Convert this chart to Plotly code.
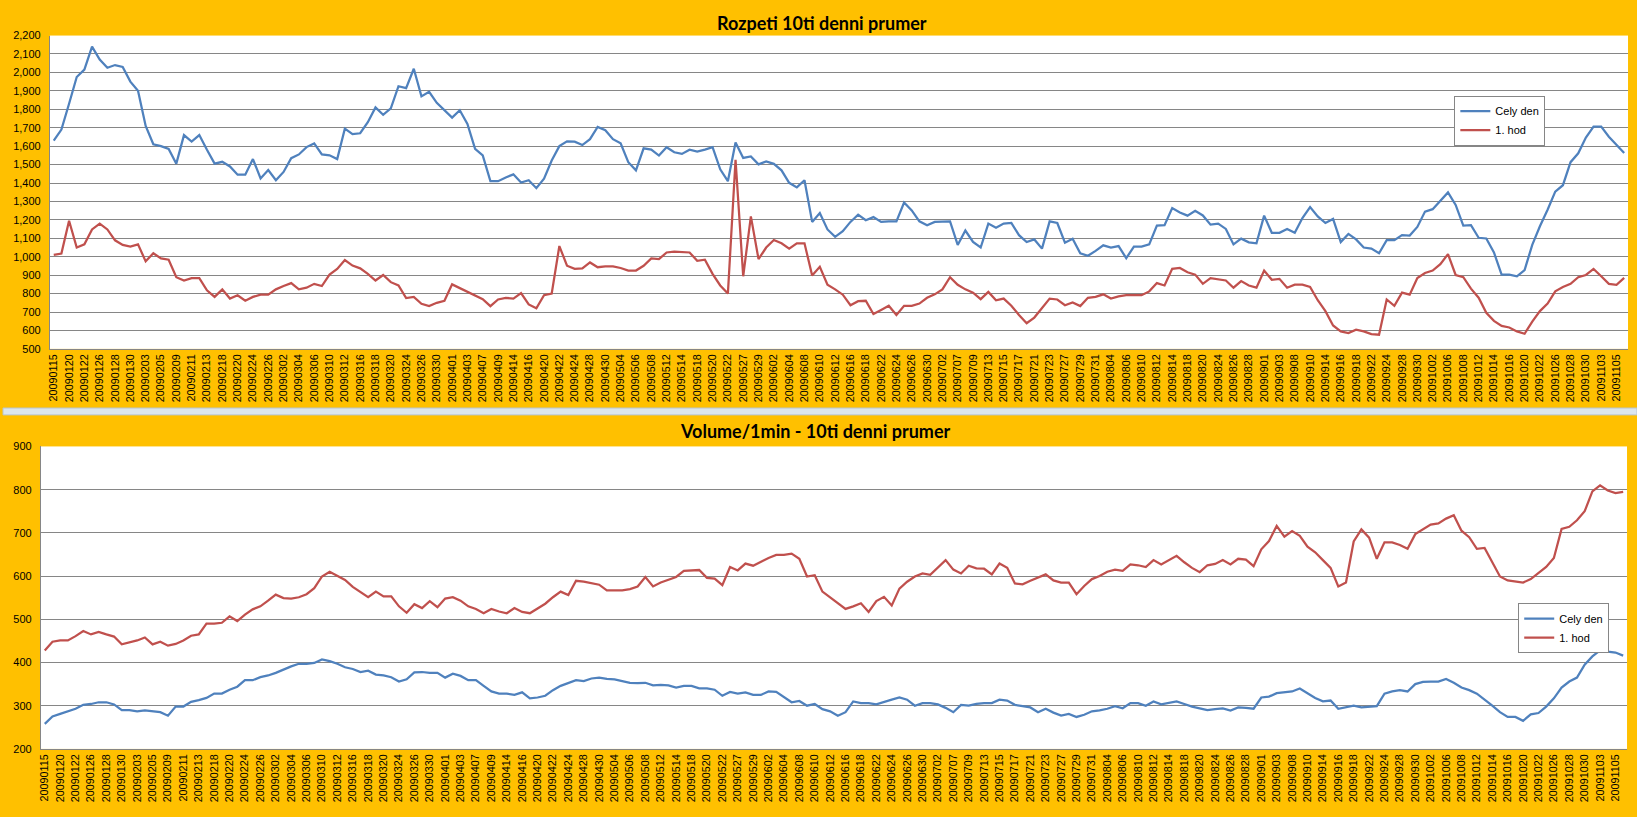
import plotly.graph_objects as go

# ---------------- data ----------------
dates = [
    "20090115", "20090116", "20090120", "20090121", "20090122", "20090123", "20090126", "20090127", "20090128", "20090129", "20090130",
    "20090202", "20090203", "20090204", "20090205", "20090206", "20090209", "20090210", "20090211", "20090212", "20090213",
    "20090217", "20090218", "20090219", "20090220", "20090223", "20090224", "20090225", "20090226", "20090227",
    "20090302", "20090303", "20090304", "20090305", "20090306", "20090309", "20090310", "20090311", "20090312", "20090313",
    "20090316", "20090317", "20090318", "20090319", "20090320", "20090323", "20090324", "20090325", "20090326", "20090327",
    "20090330", "20090331",
    "20090401", "20090402", "20090403", "20090406", "20090407", "20090408", "20090409", "20090413", "20090414", "20090415",
    "20090416", "20090417", "20090420", "20090421", "20090422", "20090423", "20090424", "20090427", "20090428", "20090429",
    "20090430",
    "20090501", "20090504", "20090505", "20090506", "20090507", "20090508", "20090511", "20090512", "20090513", "20090514",
    "20090515", "20090518", "20090519", "20090520", "20090521", "20090522", "20090526", "20090527", "20090528", "20090529",
    "20090601", "20090602", "20090603", "20090604", "20090605", "20090608", "20090609", "20090610", "20090611", "20090612",
    "20090615", "20090616", "20090617", "20090618", "20090619", "20090622", "20090623", "20090624", "20090625", "20090626",
    "20090629", "20090630",
    "20090701", "20090702", "20090706", "20090707", "20090708", "20090709", "20090710", "20090713", "20090714", "20090715",
    "20090716", "20090717", "20090720", "20090721", "20090722", "20090723", "20090724", "20090727", "20090728", "20090729",
    "20090730", "20090731",
    "20090803", "20090804", "20090805", "20090806", "20090807", "20090810", "20090811", "20090812", "20090813", "20090814",
    "20090817", "20090818", "20090819", "20090820", "20090821", "20090824", "20090825", "20090826", "20090827", "20090828",
    "20090831",
    "20090901", "20090902", "20090903", "20090904", "20090908", "20090909", "20090910", "20090911", "20090914", "20090915",
    "20090916", "20090917", "20090918", "20090921", "20090922", "20090923", "20090924", "20090925", "20090928", "20090929",
    "20090930",
    "20091001", "20091002", "20091005", "20091006", "20091007", "20091008", "20091009", "20091012", "20091013", "20091014",
    "20091015", "20091016", "20091019", "20091020", "20091021", "20091022", "20091023", "20091026", "20091027", "20091028",
    "20091029", "20091030",
    "20091102", "20091103", "20091104", "20091105", "20091106",
]
tick_dates = dates[::2]

# Rozpeti 10ti denni prumer
rozpeti_cely_den = [
    1630, 1690, 1830, 1975, 2015, 2140, 2070, 2025, 2040, 2030, 1950, 1900, 1710, 1610, 1600, 1585, 1505, 1660, 1625, 1660,
    1580, 1505, 1515, 1490, 1445, 1445, 1530, 1425, 1470, 1415, 1460, 1535, 1555, 1595, 1615, 1555, 1550, 1530, 1695, 1665,
    1670, 1730, 1810, 1770, 1805, 1925, 1915, 2020, 1870, 1895, 1835, 1795, 1755, 1795, 1720, 1585, 1550, 1410, 1410, 1430,
    1447, 1403, 1415, 1372, 1424, 1522, 1600, 1626, 1624, 1606, 1638, 1704, 1686, 1638, 1615, 1513, 1469, 1588, 1581, 1549,
    1594, 1567, 1558, 1581, 1570, 1581, 1594, 1474, 1410, 1620, 1536, 1544, 1501, 1517, 1504, 1469, 1401, 1376, 1415, 1189,
    1237, 1148, 1108, 1139, 1189, 1228, 1198, 1215, 1189, 1192, 1192, 1294, 1251, 1192, 1171, 1189, 1189, 1192, 1064, 1142,
    1080, 1050, 1180, 1157, 1180, 1183, 1117, 1080, 1094, 1044, 1192, 1183, 1076, 1098, 1019, 1005, 1032, 1062, 1050, 1058,
    992, 1055, 1055, 1067, 1169, 1171, 1264, 1240, 1223, 1249, 1224, 1174, 1180, 1151, 1067, 1098, 1078, 1073, 1223, 1130,
    1130, 1151, 1130, 1210, 1269, 1219, 1183, 1205, 1080, 1124, 1094, 1050, 1044, 1019, 1090, 1090, 1117, 1115, 1162, 1245,
    1258, 1305, 1349, 1281, 1169, 1171, 1103, 1099, 1023, 903, 903, 894, 928, 1064, 1165, 1255, 1353, 1388, 1513, 1561,
    1647, 1706, 1706, 1651, 1608, 1563,
]
rozpeti_1_hod = [
    1010, 1017, 1195, 1050, 1067, 1148, 1180, 1148, 1089, 1064, 1055, 1067, 975, 1019, 991, 984, 889, 871, 884, 884,
    818, 782, 823, 773, 791, 761, 782, 794, 794, 823, 841, 857, 823, 832, 853, 841, 903, 934, 982, 952,
    937, 907, 871, 901, 862, 844, 776, 782, 745, 732, 750, 761, 850, 830, 809, 791, 770, 732, 768, 777,
    773, 803, 741, 720, 791, 800, 1058, 951, 934, 937, 969, 943, 948, 948, 939, 925, 925, 951, 991, 987,
    1023, 1028, 1025, 1023, 978, 984, 907, 844, 800, 1526, 894, 1219, 987, 1050, 1091, 1073, 1044, 1073, 1073, 898,
    945, 848, 823, 794, 737, 759, 761, 689, 711, 734, 684, 734, 734, 746, 777, 796, 823, 889, 848, 823,
    805, 770, 809, 764, 773, 734, 684, 639, 670, 720, 773, 768, 737, 752, 732, 777, 782, 796, 773, 785,
    791, 791, 791, 812, 857, 844, 934, 939, 916, 903, 853, 884, 876, 871, 832, 868, 844, 832, 925, 875,
    880, 832, 848, 848, 836, 764, 705, 627, 595, 586, 604, 595, 580, 577, 768, 734, 805, 794, 884, 912,
    925, 960, 1014, 901, 889, 827, 778, 696, 652, 625, 616, 595, 582, 648, 705, 746, 812, 836, 853, 889,
    901, 934, 894, 853, 848, 885,
]

# Volume/1min - 10ti denni prumer
volume_cely_den = [
    258, 275, 281, 287, 293, 302, 304, 308, 308, 303, 290, 290, 287, 289, 287, 285, 277, 298, 298, 309,
    313, 318, 328, 328, 337, 344, 359, 359, 366, 370, 376, 384, 391, 397, 397, 399, 407, 403, 397, 389,
    385, 378, 381, 372, 370, 366, 356, 361, 377, 378, 376, 376, 365, 374, 369, 359, 359, 346, 333, 328,
    328, 325, 331, 317, 319, 323, 336, 346, 353, 359, 357, 363, 365, 362, 361, 357, 353, 352, 353, 347,
    348, 347, 342, 346, 346, 340, 340, 337, 323, 332, 328, 331, 325, 325, 333, 332, 321, 308, 311, 300,
    304, 292, 287, 277, 285, 310, 306, 306, 303, 309, 314, 319, 314, 300, 306, 306, 303, 295, 285, 302,
    300, 304, 306, 306, 314, 312, 302, 299, 296, 285, 293, 284, 277, 281, 274, 279, 287, 289, 293, 299,
    294, 306, 306, 300, 310, 303, 306, 310, 304, 298, 294, 290, 292, 294, 289, 296, 295, 293, 319, 321,
    329, 331, 333, 340, 328, 318, 310, 312, 293, 296, 300, 296, 298, 299, 328, 333, 336, 333, 350, 355,
    356, 356, 362, 353, 342, 336, 328, 315, 300, 285, 274, 274, 265, 280, 283, 298, 317, 342, 356, 365,
    395, 414, 428, 425, 423, 416,
]
volume_1_hod = [
    428, 448, 451, 451, 461, 473, 465, 471, 465, 460, 442, 446, 451, 458, 442, 448, 439, 443, 451, 462,
    465, 490, 490, 492, 507, 496, 511, 523, 530, 543, 557, 549, 548, 551, 558, 572, 599, 610, 600, 591,
    575, 564, 551, 564, 553, 553, 530, 515, 535, 526, 542, 528, 548, 551, 543, 530, 524, 514, 524, 518,
    514, 526, 517, 514, 524, 536, 551, 564, 556, 589, 587, 583, 580, 567, 567, 567, 570, 576, 598, 576,
    585, 591, 598, 612, 613, 614, 596, 594, 579, 621, 613, 629, 624, 633, 642, 649, 649, 652, 640, 599,
    602, 564, 551, 538, 524, 530, 537, 517, 542, 552, 532, 571, 587, 599, 606, 603, 621, 637, 615, 606,
    624, 618, 617, 604, 629, 619, 583, 581, 589, 596, 604, 590, 585, 585, 558, 577, 593, 600, 610, 615,
    612, 627, 625, 621, 637, 627, 637, 647, 632, 619, 609, 625, 628, 637, 627, 640, 638, 623, 662, 681,
    716, 691, 704, 693, 668, 655, 637, 619, 576, 585, 680, 708, 689, 640, 678, 678, 672, 663, 697, 708,
    719, 722, 733, 741, 705, 690, 663, 665, 632, 599, 590, 587, 585, 593, 608, 621, 642, 709, 714, 729,
    750, 796, 810, 798, 792, 795,
]

series_names = ["Cely den", "1. hod"]
titles = ["Rozpeti 10ti denni prumer", "Volume/1min - 10ti denni prumer"]

# ---------------- style ----------------
W, H = 1637, 817
BLUE = "#4F81BD"
RED = "#C0504D"
ORANGE = "#FFC000"
GRID = "#868686"
FONT = "Liberation Sans, Arial, sans-serif"


def fx(x):
    return x / W


def fy(y):
    return 1 - y / H


fig = go.Figure()

fig.add_trace(go.Scatter(x=dates, y=rozpeti_cely_den, name=series_names[0], mode="lines",
                         line=dict(color=BLUE, width=2.25), xaxis="x", yaxis="y", legend="legend"))
fig.add_trace(go.Scatter(x=dates, y=rozpeti_1_hod, name=series_names[1], mode="lines",
                         line=dict(color=RED, width=2.25), xaxis="x", yaxis="y", legend="legend"))
fig.add_trace(go.Scatter(x=dates, y=volume_cely_den, name=series_names[0], mode="lines",
                         line=dict(color=BLUE, width=2.25), xaxis="x2", yaxis="y2", legend="legend2"))
fig.add_trace(go.Scatter(x=dates, y=volume_1_hod, name=series_names[1], mode="lines",
                         line=dict(color=RED, width=2.25), xaxis="x2", yaxis="y2", legend="legend2"))

xcommon = dict(type="category", range=[-0.5, len(dates) - 0.5], tickmode="array",
               tickvals=tick_dates, ticktext=tick_dates, tickangle=-90,
               tickfont=dict(family=FONT, size=10.8, color="#000000"),
               showgrid=False, showline=True, linecolor=GRID, linewidth=1,
               ticks="", zeroline=False, fixedrange=True)
ycommon = dict(showgrid=True, gridcolor=GRID, gridwidth=1, showline=True, linecolor=GRID,
               linewidth=1, zeroline=False, ticks="", dtick=100,
               tickfont=dict(family=FONT, size=11, color="#000000"), fixedrange=True)

fig.update_layout(
    width=W, height=H,
    margin=dict(l=0, r=0, t=0, b=0),
    paper_bgcolor=ORANGE,
    plot_bgcolor="#FFFFFF",
    showlegend=True,
    xaxis=dict(domain=[fx(47), fx(1628)], anchor="y", **xcommon),
    yaxis=dict(domain=[fy(348), fy(30)], anchor="x", range=[500, 2200], tickformat=",",
               ticklabelstandoff=6, **ycommon),
    xaxis2=dict(domain=[fx(38), fx(1627)], anchor="y2", **xcommon),
    yaxis2=dict(domain=[fy(754), fy(447)], anchor="x2", range=[200, 900],
                ticklabelstandoff=6, **ycommon),
    legend=dict(x=fx(1454), y=fy(91), xanchor="left", yanchor="top",
                bgcolor="#FFFFFF", bordercolor=GRID, borderwidth=1,
                font=dict(family=FONT, size=11, color="#000000"),
                itemwidth=30, tracegroupgap=0),
    legend2=dict(x=fx(1518), y=fy(606), xanchor="left", yanchor="top",
                 bgcolor="#FFFFFF", bordercolor=GRID, borderwidth=1,
                 font=dict(family=FONT, size=11, color="#000000"),
                 itemwidth=30, tracegroupgap=0),
    annotations=[
        dict(text="<b>" + titles[0] + "</b>", x=fx(821), y=fy(17), xref="paper", yref="paper",
             xanchor="center", yanchor="middle", showarrow=False,
             font=dict(family="Lato, Open Sans, sans-serif", size=18, color="#000000")),
        dict(text="<b>" + titles[1] + "</b>", x=fx(814), y=fy(431), xref="paper", yref="paper",
             xanchor="center", yanchor="middle", showarrow=False,
             font=dict(family="Lato, Open Sans, sans-serif", size=18, color="#000000")),
    ],
    shapes=[
        dict(type="rect", xref="paper", yref="paper", x0=0, x1=1, y0=fy(415), y1=fy(408),
             fillcolor="#DCE6EE", line=dict(color="#B8C4CE", width=1), layer="above"),
    ],
)

fig.write_html(
    "out.html",
    config={"displayModeBar": False},
    post_script="document.body.style.margin='0';document.body.style.padding='0';"
                "document.body.style.overflow='hidden';",
)
